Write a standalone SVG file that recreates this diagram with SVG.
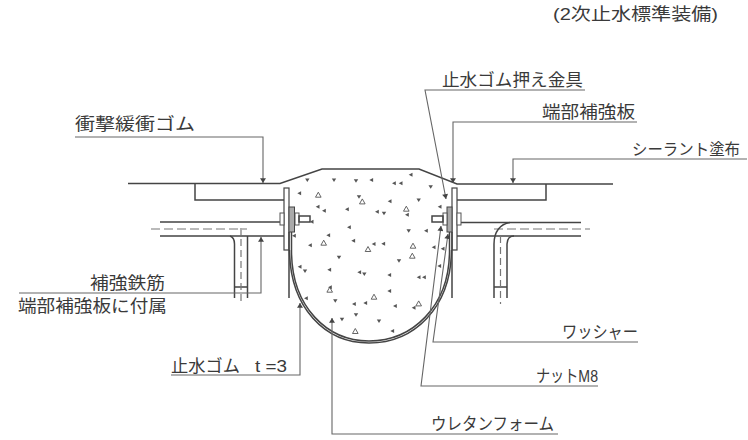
<svg xmlns="http://www.w3.org/2000/svg" width="748" height="440" viewBox="0 0 748 440">
<style>
text{font-family:"Liberation Sans","Noto Sans CJK JP",sans-serif;font-size:17px;fill:#3a3a3a}
.o{fill:none;stroke:#444;stroke-width:1.5}
.t{fill:#fff;stroke:#555;stroke-width:1}
.d{fill:none;stroke:#777;stroke-width:1.2;stroke-dasharray:9 4}
.v{stroke-dasharray:7 4}
.l{fill:none;stroke:#666;stroke-width:1.1}
.g{fill:#aaa;stroke:#444;stroke-width:1}
.p{fill:#fff;stroke:#444;stroke-width:1.2}
</style>
<defs>
<marker id="a" viewBox="0 0 8 10" refX="8" refY="5" markerWidth="8" markerHeight="6" orient="auto" markerUnits="userSpaceOnUse"><path d="M0 0L8 5L0 10Z" fill="#444"/></marker>
<path id="f" d="M-2.200-1.500L2.200-1.500L0 2Z" fill="#555"/>
<path id="k" d="M1.800-2L1.800 2L-2 0Z" fill="#555"/>
<path id="h" d="M0-2.800L2.800 2.200L-2.800 2.200Z" fill="none" stroke="#555" stroke-width=".9"/>
</defs>
<rect width="748" height="440" fill="#fff"/>
<g id="body">
<path class="o" d="M128 183.500H280L322 169H419L457 184H613"/>
<path class="o" d="M195 184V200H284M546 184V200H457"/>
<path class="o" d="M160 222H284M160 236H284M457 222.500H581M457 236H581"/>
<path class="d" d="M151 229H247M494 229H590"/>
<path class="o" d="M230 236C233 237 234.500 240 234.500 244V298M247.500 236V298M234.500 287H247.500"/>
<path class="o" d="M494 298V244C494 232 500 224 510 222.500M507 298V244C507 239 510 236 514 236M494 287H507"/>
<path class="d v" d="M241 228V304M500.500 236V304"/>
<g id="bolt-left"><rect class="p" x="284" y="188" width="5" height="62"/><rect class="g" x="289" y="207" width="5.500" height="25"/><rect class="t" x="280" y="213" width="4" height="12"/><rect class="t" x="295" y="213" width="4" height="12"/><rect class="o" x="299" y="216" width="11" height="6"/></g>
<g id="bolt-right"><rect class="p" x="452" y="188" width="5" height="62"/><rect class="g" x="447" y="207" width="5" height="25"/><rect class="t" x="457" y="213" width="4" height="12"/><rect class="t" x="443" y="213" width="4" height="12"/><rect class="o" x="432" y="216" width="11" height="6"/></g>
</g>
<g id="rubber">
<path class="o" d="M289 232V298M452 232V298"/>
<path class="o" d="M289.500 250C290 308 325 343 369 343C414 343 451 308 451.500 250"/>
<path class="o" d="M291.500 232V252C292 307 327 341 369 341C412 341 449 307 449.500 252V232"/>
</g>
<g id="foam">
<g id="filled"><use href="#f" x="307.300" y="180"/><use href="#f" x="334" y="180"/><use href="#f" x="356" y="180.700"/><use href="#k" x="371.300" y="180"/><use href="#k" x="394" y="183.300"/><use href="#k" x="400.700" y="183.300"/><use href="#k" x="410.700" y="174.700"/><use href="#f" x="430.700" y="186.700"/><use href="#k" x="299.300" y="193.300"/><use href="#f" x="359" y="196.700"/><use href="#f" x="418.700" y="200"/><use href="#k" x="389.700" y="201.300"/><use href="#k" x="317.700" y="206.700"/><use href="#k" x="324" y="210.700"/><use href="#k" x="347" y="209.300"/><use href="#k" x="377" y="211.700"/><use href="#f" x="384" y="213.300"/><use href="#k" x="407" y="214.700"/><use href="#k" x="439.700" y="206.700"/><use href="#k" x="349" y="227.300"/><use href="#f" x="408.700" y="230.700"/><use href="#k" x="426" y="230.700"/><use href="#k" x="328.300" y="235.300"/><use href="#k" x="310" y="245.300"/><use href="#k" x="353.300" y="240.700"/><use href="#k" x="373.700" y="244"/><use href="#k" x="383.300" y="243.700"/><use href="#k" x="433.700" y="247.300"/><use href="#k" x="442.700" y="248.700"/><use href="#f" x="339" y="257.300"/><use href="#f" x="399" y="260.700"/><use href="#k" x="439.300" y="266"/><use href="#k" x="299.700" y="266.700"/><use href="#f" x="305" y="271"/><use href="#k" x="329.300" y="269.700"/><use href="#k" x="359.300" y="272.300"/><use href="#f" x="364.300" y="274"/><use href="#k" x="389.300" y="275"/><use href="#k" x="418.700" y="277.300"/><use href="#k" x="424" y="277.300"/><use href="#k" x="389.300" y="291"/><use href="#k" x="306" y="298.300"/><use href="#f" x="335.300" y="300.700"/><use href="#k" x="354" y="304"/><use href="#k" x="365.300" y="303"/><use href="#k" x="395" y="306"/><use href="#k" x="413.700" y="307.700"/><use href="#f" x="356" y="314.700"/><use href="#f" x="342" y="319.300"/><use href="#f" x="379" y="321"/><use href="#k" x="392.300" y="331"/><use href="#k" x="311.700" y="221.700"/><use href="#k" x="294" y="235.700"/><use href="#k" x="330" y="287.300"/></g>
<g id="open"><use href="#h" x="318.300" y="195"/><use href="#h" x="362.300" y="201.700"/><use href="#h" x="406.300" y="209"/><use href="#h" x="323.700" y="243"/><use href="#h" x="368" y="249.300"/><use href="#h" x="413" y="246"/><use href="#h" x="412.300" y="256"/><use href="#h" x="329.700" y="290"/><use href="#h" x="374" y="297"/><use href="#h" x="418.700" y="303.700"/><use href="#h" x="355.300" y="331.300"/></g>
</g>
<g id="connectors">
<path class="l" marker-end="url(#a)" d="M75 137H263V183"/>
<path class="l" marker-end="url(#a)" d="M19 293H261V237"/>
<path class="l" marker-end="url(#a)" d="M171 375H300V303"/>
<path class="l" marker-end="url(#a)" d="M558 434H332V318"/>
<path class="l" marker-end="url(#a)" d="M585 90H425L446 199"/>
<path class="l" marker-end="url(#a)" d="M637 122H453V183"/>
<path class="l" marker-end="url(#a)" d="M747 159H513V183"/>
<path class="l" marker-end="url(#a)" d="M638 342H433L448 234"/>
<path class="l" marker-end="url(#a)" d="M598 386H421L441 226"/>
</g>
<g id="labels">
<text x="553" y="20" textLength="165" lengthAdjust="spacingAndGlyphs">(2次止水標準装備)</text>
<text x="442" y="86" textLength="141" lengthAdjust="spacingAndGlyphs">止水ゴム押え金具</text>
<text x="542" y="118" textLength="93" lengthAdjust="spacingAndGlyphs">端部補強板</text>
<text x="75" y="130" textLength="120" lengthAdjust="spacingAndGlyphs">衝撃緩衝ゴム</text>
<text x="632" y="155" style="font-size:16px" textLength="108" lengthAdjust="spacingAndGlyphs">シーラント塗布</text>
<text x="90" y="289" textLength="75" lengthAdjust="spacingAndGlyphs">補強鉄筋</text>
<text x="18" y="312" textLength="149" lengthAdjust="spacingAndGlyphs">端部補強板に付属</text>
<text x="171" y="372" textLength="69" lengthAdjust="spacingAndGlyphs">止水ゴム</text>
<text x="255" y="372" textLength="32" lengthAdjust="spacingAndGlyphs">t =3</text>
<text x="562" y="338" textLength="76" lengthAdjust="spacingAndGlyphs">ワッシャー</text>
<text x="536" y="382" textLength="62" lengthAdjust="spacingAndGlyphs">ナットM8</text>
<text x="431" y="430" textLength="123" lengthAdjust="spacingAndGlyphs">ウレタンフォーム</text>
</g>
</svg>
